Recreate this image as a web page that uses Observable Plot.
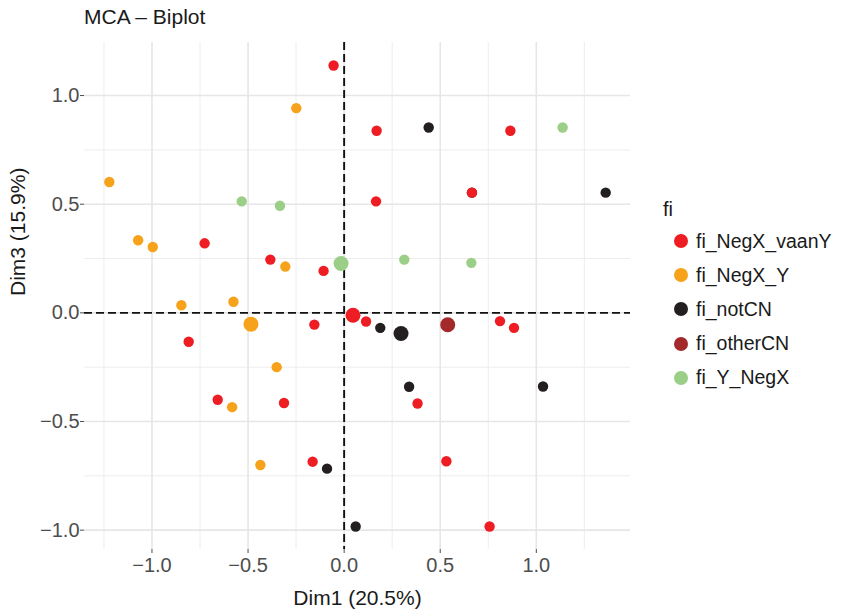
<!DOCTYPE html>
<html>
<head>
<meta charset="utf-8">
<script src="https://cdn.jsdelivr.net/npm/d3@7"></script>
<script src="https://cdn.jsdelivr.net/npm/@observablehq/plot@0.6"></script>
<style>
  body { margin: 0; background: #fff; font-family: "Liberation Sans", Arial, sans-serif; }
  #wrap { position: relative; width: 845px; height: 612px; overflow: hidden; }
  #title { height: 34px; line-height: 34px; padding-left: 84px; font-size: 21px; color: #1a1a1a; box-sizing: border-box; }
  #legend { position: absolute; left: 663px; top: 196px; color: #1a1a1a; }
  #legend .head { font-size: 20px; height: 28px; line-height: 26px; }
  #legend .item { display: flex; align-items: center; height: 34.2px; font-size: 19.5px; }
  #legend .sw { width: 14px; height: 14px; border-radius: 50%; margin-left: 11px; margin-right: 8px; }
</style>
</head>
<body>
<div id="wrap">
  <div id="title">MCA – Biplot</div>
  <div id="chart"></div>
  <div id="legend"></div>
</div>
<script>
// MCA coordinates on dimensions 1 and 3, one entry per point
const dim1 = [
  // fi_notCN
  0.440, 1.361, 0.665, 0.188, 0.338, 1.035, -0.089, 0.060,
  // fi_Y_NegX
  -0.533, -0.334, 1.137, 0.313, 0.662,
  // fi_NegX_Y
  -0.249, -1.222, -1.072, -0.996, -0.306, -0.847, -0.576, -0.351, -0.583, -0.436,
  // fi_NegX_vaanY
  -0.055, 0.169, 0.865, 0.166, 0.665, -0.726, -0.384, -0.107, -0.155, -0.809,
  -0.658, -0.313, -0.164, 0.114, 0.811, 0.884, 0.382, 0.532, 0.757,
  // category points
  0.046, -0.485, 0.296, 0.539, -0.016
];
const dim3 = [
  0.853, 0.553, 0.553, -0.069, -0.340, -0.339, -0.717, -0.983,
  0.513, 0.493, 0.853, 0.245, 0.230,
  0.942, 0.602, 0.334, 0.303, 0.213, 0.035, 0.051, -0.250, -0.434, -0.700,
  1.138, 0.838, 0.838, 0.513, 0.553, 0.320, 0.245, 0.193, -0.054, -0.133,
  -0.400, -0.415, -0.685, -0.040, -0.038, -0.069, -0.417, -0.683, -0.983,
  -0.011, -0.052, -0.095, -0.055, 0.227
];
const fi = [
  ...Array(8).fill("fi_notCN"),
  ...Array(5).fill("fi_Y_NegX"),
  ...Array(10).fill("fi_NegX_Y"),
  ...Array(19).fill("fi_NegX_vaanY"),
  "fi_NegX_vaanY", "fi_NegX_Y", "fi_notCN", "fi_otherCN", "fi_Y_NegX"
];
const kind = [...Array(42).fill("ind"), ...Array(5).fill("var")];

const groups = ["fi_NegX_vaanY", "fi_NegX_Y", "fi_notCN", "fi_otherCN", "fi_Y_NegX"];
const palette = ["#EE1D24", "#F7A21B", "#231F20", "#A4292A", "#9BCF87"];

const xMajor = [-1, -0.5, 0, 0.5, 1];
const yMajor = [-1, -0.5, 0, 0.5, 1];
const xMinor = [-1.25, -0.75, -0.25, 0.25, 0.75, 1.25];
const yMinor = [-1.25, -0.75, -0.25, 0.25, 0.75, 1.25];

const points = dim1.map((d, i) => ({dim1: d, dim3: dim3[i], fi: fi[i], kind: kind[i]}));

// ggplot-style 5% expansion of the data range
const expand = ([a, b]) => [a - (b - a) * 0.05, b + (b - a) * 0.05];
const xDomain = expand(d3.extent(dim1));
const yDomain = expand(d3.extent(dim3));
const inside = (dom) => (v) => v >= dom[0] && v <= dom[1];

const fmt = d3.format(".1f");

const plot = Plot.plot({
  width: 845,
  height: 578,
  marginLeft: 84,
  marginRight: 215,
  marginTop: 8,
  marginBottom: 63,
  style: {fontFamily: "Liberation Sans, Arial, sans-serif", background: "white", overflow: "visible"},
  x: {domain: xDomain, label: null},
  y: {domain: yDomain, label: null},
  r: {type: "identity"},
  color: {domain: groups, range: palette},
  marks: [
    Plot.ruleX(xMinor.filter(inside(xDomain)), {stroke: "#ebebeb", strokeWidth: 0.9}),
    Plot.ruleY(yMinor.filter(inside(yDomain)), {stroke: "#ebebeb", strokeWidth: 0.9}),
    Plot.ruleX(xMajor, {stroke: "#e6e6e6", strokeWidth: 1.6}),
    Plot.ruleY(yMajor, {stroke: "#e6e6e6", strokeWidth: 1.6}),
    Plot.ruleX([0], {stroke: "#111", strokeWidth: 1.9, strokeDasharray: "8,4"}),
    Plot.ruleY([0], {stroke: "#111", strokeWidth: 1.9, strokeDasharray: "8,4"}),
    Plot.axisX(xMajor, {tickSize: 4, tickPadding: 4, fontSize: 20, tickFormat: fmt, color: "#4d4d4d", label: null}),
    Plot.axisY(yMajor, {tickSize: 4, tickPadding: 1, fontSize: 20, tickFormat: fmt, color: "#4d4d4d", label: null}),
    Plot.dot(points, {
      x: "dim1", y: "dim3", fill: "fi",
      r: (d) => d.kind === "var" ? 7.5 : 5.2
    }),
    Plot.text(["Dim1 (20.5%)"], {frameAnchor: "bottom", dy: 49, fontSize: 21, fill: "#1a1a1a", lineAnchor: "middle"}),
    Plot.text(["Dim3 (15.9%)"], {frameAnchor: "left", dx: -66, rotate: -90, fontSize: 21, fill: "#1a1a1a", lineAnchor: "middle"})
  ]
});
document.getElementById("chart").appendChild(plot);

// Legend for the fi groups, coloured from the plot's colour scale
const color = plot.scale("color");
const legend = d3.select("#legend");
legend.append("div").attr("class", "head").text("fi");
color.domain.forEach((g, i) => {
  const row = legend.append("div").attr("class", "item");
  row.append("span").attr("class", "sw").style("background", color.range[i]);
  row.append("span").text(g);
});
</script>
</body>
</html>
